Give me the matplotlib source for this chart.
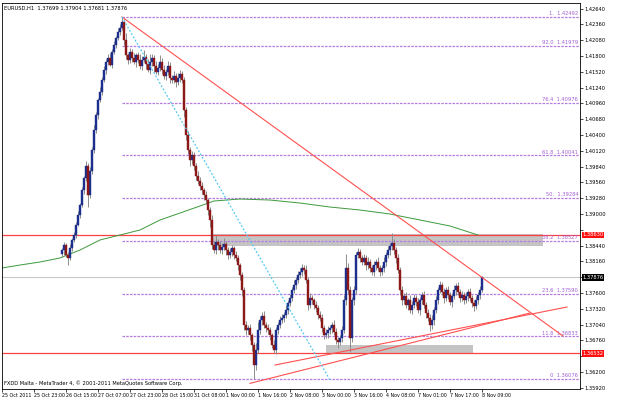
import numpy as np
import matplotlib
matplotlib.use("Agg")
import matplotlib.pyplot as plt
from matplotlib.transforms import blended_transform_factory

# ---- data (prices x 1e-4) ----
first_bar = 30
first_open = 13830
closes = [
    13836, 13845, 13827, 13822, 13839, 13854, 13863, 13881, 13898, 13916,  # 30
    13942, 13964, 13986, 13933, 13977, 14013, 14049, 14075, 14102, 14117,  # 40
    14138, 14156, 14170, 14177, 14165, 14188, 14200, 14212, 14223, 14230,  # 50
    14240, 14209, 14181, 14173, 14187, 14177, 14170, 14181, 14173, 14162,  # 60
    14173, 14179, 14166, 14156, 14170, 14177, 14162, 14152, 14159, 14170,  # 70
    14156, 14145, 14152, 14162, 14141, 14138, 14145, 14134, 14141, 14148,  # 80
    14138, 14084, 14040, 14013, 13995, 14004, 13986, 13968, 13959, 13950,  # 90
    13942, 13933, 13924, 13907, 13889, 13845, 13836, 13850, 13845, 13836,  # 100
    13841, 13847, 13836, 13827, 13832, 13839, 13827, 13822, 13809, 13792,  # 110
    13765, 13703, 13694, 13698, 13685, 13668, 13632, 13659, 13694, 13712,  # 120
    13720, 13703, 13698, 13694, 13685, 13668, 13659, 13694, 13703, 13712,  # 130
    13716, 13721, 13730, 13742, 13751, 13765, 13774, 13783, 13792, 13797,  # 140
    13804, 13801, 13783, 13739, 13751, 13747, 13739, 13733, 13721, 13716,  # 150
    13698, 13685, 13689, 13694, 13698, 13703, 13691, 13676, 13673, 13680,  # 160
    13694, 13747, 13804, 13765, 13680, 13747, 13765, 13827, 13832, 13822,  # 170
    13815, 13822, 13809, 13815, 13804, 13797, 13809, 13815, 13804, 13797,  # 180
    13804, 13815, 13827, 13836, 13843, 13849, 13836, 13822, 13801, 13765,  # 190
    13747, 13754, 13739, 13747, 13730, 13739, 13751, 13744, 13730, 13747,  # 200
    13756, 13739, 13724, 13716, 13703, 13712, 13730, 13747, 13765, 13774,  # 210
    13762, 13751, 13765, 13756, 13744, 13754, 13765, 13772, 13762, 13751,  # 220
    13756, 13747, 13754, 13762, 13751, 13742, 13737, 13747, 13756, 13765,  # 230
    13788,                                                                 # 240
]
wick_hi = [
    4, 6, 3, 5, 8, 4, 6, 5, 7, 4,
    6, 4, 8, 5, 7, 6, 9, 5, 4, 8,
    5, 7, 4, 6, 8, 5, 6, 4, 7, 6,
    9, 6, 12, 5, 8, 6, 9, 5, 7, 10,
    7, 12, 5, 8, 14, 6, 5, 9, 7, 11,
    6, 8, 5, 10, 7, 6, 8, 5, 9, 7,
    5, 4, 6, 8, 5, 7, 6, 5, 8, 6,
    6, 5, 8, 4, 6, 9, 7, 12, 6, 8,
    7, 10, 6, 5, 8, 6, 5, 7, 6, 5,
    6, 5, 8, 6, 7, 5, 6, 12, 15, 8,
    6, 9, 5, 7, 6, 5, 8, 6, 5, 7,
    6, 5, 8, 6, 7, 5, 9, 6, 7, 8,
    7, 6, 8, 5, 9, 6, 5, 7, 6, 8,
    6, 5, 8, 7, 6, 5, 9, 7, 6, 5,
    8, 10, 25, 9, 7, 6, 8, 5, 7, 6,
    5, 7, 6, 8, 5, 6, 7, 5, 8, 6,
    6, 8, 5, 7, 6, 17, 6, 5, 8, 6,
    7, 6, 8, 5, 9, 6, 7, 5, 8, 6,
    6, 8, 5, 7, 6, 9, 5, 7, 6, 8,
    5, 7, 6, 8, 5, 6, 9, 5, 7, 6,
    7, 5, 8, 6, 7, 5, 6, 8, 5, 7,
    3,
]
wick_lo = [
    6, 9, 4, 12, 3, 5, 4, 6, 3, 5,
    4, 7, 5, 20, 5, 6, 4, 5, 7, 3,
    6, 4, 8, 5, 3, 7, 5, 6, 4, 5,
    4, 10, 6, 7, 5, 8, 4, 9, 6, 5,
    6, 4, 9, 5, 7, 8, 10, 4, 6, 5,
    8, 5, 7, 6, 9, 5, 6, 8, 5, 7,
    6, 12, 8, 7, 9, 6, 8, 7, 5, 8,
    7, 8, 6, 9, 12, 7, 5, 6, 8, 5,
    6, 5, 8, 7, 5, 6, 7, 5, 8, 9,
    10, 8, 9, 7, 8, 10, 24, 8, 6, 7,
    8, 5, 7, 6, 9, 6, 5, 7, 6, 5,
    5, 7, 6, 8, 5, 6, 5, 7, 6, 5,
    6, 8, 5, 9, 6, 7, 8, 6, 7, 5,
    7, 6, 5, 8, 6, 9, 5, 7, 10, 6,
    6, 5, 8, 6, 25, 7, 8, 6, 5, 7,
    6, 5, 8, 6, 7, 5, 6, 8, 5, 7,
    5, 6, 7, 5, 8, 6, 7, 9, 6, 8,
    8, 6, 5, 9, 6, 8, 5, 7, 6, 9,
    7, 5, 8, 6, 10, 7, 8, 5, 6, 5,
    6, 8, 5, 7, 6, 9, 5, 8, 6, 7,
    6, 7, 5, 8, 6, 7, 8, 5, 7, 6,
    4,
]

# moving average (green), read at a few bars
ma_bars = [0, 9, 19, 29, 39, 49, 69, 79, 89, 99, 106, 119, 134, 149, 164, 179, 194, 209, 224, 238]
ma_vals = [1.38043, 1.38096, 1.38150, 1.38221, 1.38362, 1.38540, 1.38717, 1.38894, 1.39018,
           1.39142, 1.39231, 1.39266, 1.39248, 1.39195, 1.39124, 1.39071, 1.39000, 1.38894,
           1.38788, 1.38628]

fib_names = ["1.", "92.0", "76.4", "61.8", "50.", "38.2", "23.6", "11.8", "0"]
fib_prices = [1.42492, 1.41979, 1.40976, 1.40041, 1.39284, 1.38527, 1.37590, 1.36833, 1.36076]
fib_start = 60

red_levels = [1.38630, 1.36532]
last_price = 1.37876

# trend lines: (bar0, price0, bar1, price1)
red_trend = [(60, 1.42492, 280.5, 1.36838),
             (124, 1.35999, 264, 1.37246),
             (136.5, 1.36324, 282.5, 1.37352)]
blue_trend = (60, 1.42492, 164, 1.36058)

# gray zones: (bar0, bar1, low, high)
zones = [(105.5, 270.5, 1.38433, 1.38646),
         (162, 235.5, 1.36519, 1.36679)]

x_labels = ["25 Oct 2011", "25 Oct 23:00", "26 Oct 15:00", "27 Oct 07:00", "27 Oct 23:00",
            "28 Oct 15:00", "31 Oct 08:00", "1 Nov 00:00", "1 Nov 16:00", "2 Nov 08:00",
            "3 Nov 00:00", "3 Nov 16:00", "4 Nov 08:00", "7 Nov 01:00", "7 Nov 17:00",
            "8 Nov 09:00"]

# ---- build OHLC ----
c = np.array(closes) / 1e4
o = np.concatenate([[first_open / 1e4], c[:-1]])
h = np.maximum(o, c) + np.array(wick_hi) / 1e4
l = np.minimum(o, c) - np.array(wick_lo) / 1e4
bars = np.arange(first_bar, first_bar + len(c))

FS = 3.7
W, H = 625, 399
fig = plt.figure(figsize=(W / 100, H / 100), dpi=100)
ax = fig.add_axes([2 / W, 1 - 389 / H, 578 / W, 386 / H])
ax.set_xlim(0, 289)
ax.set_ylim(1.35899, 1.42740)

# zones
for b0, b1, lo, hi in zones:
    ax.fill_between([b0, b1], lo, hi, color="#c4c4c4", lw=0, zorder=1)

# horizontal lines
ax.axhline(last_price, color="#c8c8c8", lw=0.8, zorder=1)
for lv in red_levels:
    ax.axhline(lv, color="#ff4040", lw=0.9, zorder=2)

# fibonacci
for name, p in zip(fib_names, fib_prices):
    ax.plot([fib_start, 289], [p, p], color="#b57be0", lw=0.9, ls=(0, (2, 1)), zorder=2)
    ax.text(288, p + 0.00012, f"{name}  {p:.5f}", color="#a35fd6", fontsize=FS,
            ha="right", va="bottom", zorder=5)

# moving average
ax.plot(ma_bars, ma_vals, color="#3c9a3c", lw=0.7, zorder=2)

# candles
up = c >= o
ax.vlines(bars, l, h, color="#8c8c8c", lw=0.7, zorder=3)
ax.bar(bars[up], (c - o)[up], bottom=o[up], width=0.9, color="#1c2f8c",
       edgecolor="#1c2f8c", lw=0.3, zorder=4)
ax.bar(bars[~up], (o - c)[~up], bottom=c[~up], width=0.9, color="#8c1818",
       edgecolor="#8c1818", lw=0.3, zorder=4)

# trend lines
for b0, p0, b1, p1 in red_trend:
    ax.plot([b0, b1], [p0, p1], color="#ff5050", lw=0.8, zorder=5)
ax.plot(blue_trend[::2], blue_trend[1::2], color="#4fc8f0", lw=0.9, ls=(0, (1.5, 1.5)), zorder=5)

# axes styling
for s in ax.spines.values():
    s.set_linewidth(0.6)
ax.yaxis.tick_right()
yt = np.round(1.35920 + 0.0028 * np.arange(25), 5)
ax.set_yticks(yt)
hide = [1.38720, 1.37880, 1.36480]
ax.set_yticklabels(["" if any(abs(v - x) < 1e-6 for x in hide) else f"{v:.5f}" for v in yt])
ax.tick_params(axis="y", length=2, width=0.5, labelsize=FS, pad=1.5)
ax.set_xticks(np.arange(len(x_labels)) * 16)
ax.set_xticklabels(x_labels)
for t in ax.get_xticklabels():
    t.set_ha("left")
ax.tick_params(axis="x", length=2, width=0.5, labelsize=3.4, pad=1)

# price labels on the axis
tr = blended_transform_factory(ax.transAxes, ax.transData)
for lv in red_levels:
    ax.text(1.004, lv, f"{lv:.5f}", transform=tr, fontsize=FS, color="white", va="center",
            ha="left", bbox=dict(boxstyle="square,pad=0.15", fc="#ff1010", ec="none"), zorder=6,
            clip_on=False)
ax.text(1.004, last_price, f"{last_price:.5f}", transform=tr, fontsize=FS, color="white",
        va="center", ha="left", bbox=dict(boxstyle="square,pad=0.15", fc="black", ec="none"),
        zorder=6, clip_on=False)

ax.text(0.004, 0.992, "EURUSD,H1  1.37699 1.37904 1.37681 1.37876", transform=ax.transAxes,
        fontsize=FS, va="top", ha="left")
ax.text(0.004, 0.008, "FXDD Malta - MetaTrader 4, \u00a9 2001-2011 MetaQuotes Software Corp.",
        transform=ax.transAxes, fontsize=FS, va="bottom", ha="left")

fig.savefig("out.png", dpi=100)
